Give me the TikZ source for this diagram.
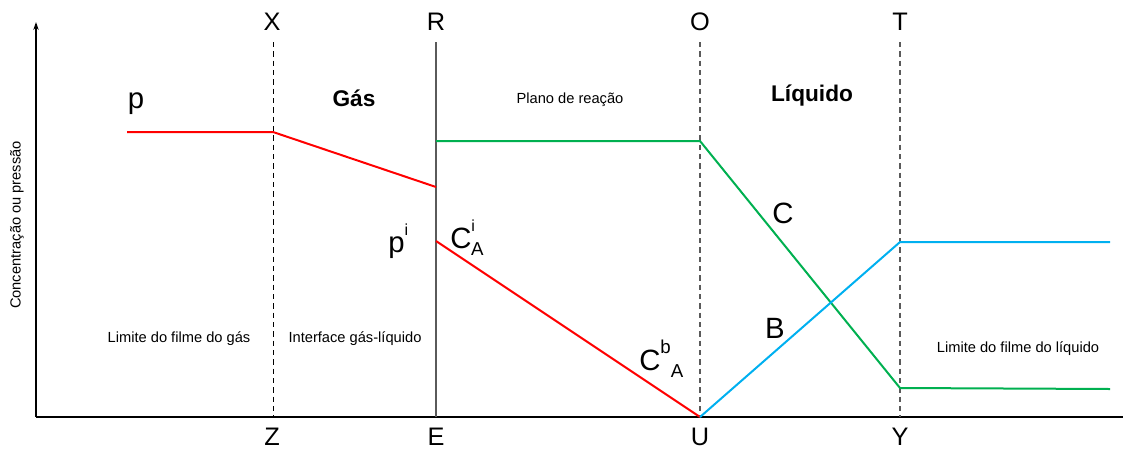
\documentclass[tikz,border=0pt]{standalone}
\usepackage{fontspec}
\setmainfont{Liberation Sans}
\usetikzlibrary{arrows.meta}
\definecolor{cred}{RGB}{255,0,0}
\definecolor{cgreen}{RGB}{0,176,80}
\definecolor{cblue}{RGB}{0,176,240}
\definecolor{cgray}{RGB}{90,90,90}
\tikzset{
  axis/.style={line width=0.9pt,black},
  bound/.style={line width=0.7pt,dash pattern=on 4pt off 3pt,black},
  boundgray/.style={line width=0.8pt,dash pattern=on 4pt off 3pt,cgray},
  solidbound/.style={line width=0.9pt,cgray},
  curve/.style={line width=1.5pt},
  letter/.style={font=\fontsize{19}{22}\selectfont,inner sep=0pt},
  biglabel/.style={font=\fontsize{22}{25}\selectfont,inner sep=0pt},
  boldlabel/.style={font=\bfseries\fontsize{17}{20}\selectfont,inner sep=0pt},
  smalllabel/.style={font=\fontsize{11}{13}\selectfont,inner sep=0pt},
}
\begin{document}
\begin{tikzpicture}[x=0.75pt,y=-0.75pt]
\useasboundingbox (0,0) rectangle (1123,450);
% axes
\coordinate (o) at (36,417);
\coordinate (ytop) at (36,22);
\coordinate (xend) at (1123,417);
\draw[axis,-{Stealth[length=6pt,width=4pt]}] (o) -- (ytop);
\draw[axis] (o) -- (xend);
% boundary lines
\coordinate (xt) at (273,42); \coordinate (xb) at (273,417);
\coordinate (rt) at (436,42); \coordinate (rb) at (436,417);
\coordinate (ot) at (700,42); \coordinate (ob) at (700,417);
\coordinate (tt) at (900,42); \coordinate (tb) at (900,417);
\draw[bound] (xt) -- (xb);
\draw[solidbound] (rt) -- (rb);
\draw[boundgray] (ot) -- (ob);
\draw[boundgray] (tt) -- (tb);
% top / bottom letters
\node[letter] (lX) at (272,22) {X};
\node[letter] (lR) at (436,22) {R};
\node[letter] (lO) at (700,22) {O};
\node[letter] (lT) at (900,22) {T};
\node[letter] (lZ) at (272,437) {Z};
\node[letter] (lE) at (436,437) {E};
\node[letter] (lU) at (700,437) {U};
\node[letter] (lY) at (900,437) {Y};
% red curves
\coordinate (p0) at (127,132);
\coordinate (p1) at (273,132);
\coordinate (p2) at (436,187);
\coordinate (c0) at (436,241);
\coordinate (c1) at (700,417);
\draw[curve,cred] (p0) -- (p1) -- (p2);
\draw[curve,cred] (c0) -- (c1);
% green
\coordinate (g0) at (436,141);
\coordinate (g1) at (700,141);
\coordinate (g2) at (900,388);
\coordinate (g3) at (1110,389);
\draw[curve,cgreen] (g0) -- (g1) -- (g2) -- (g3);
% blue
\coordinate (b1) at (900,242);
\coordinate (b2) at (1110,242);
\draw[curve,cblue] (c1) -- (b1) -- (b2);
% labels
\node[biglabel] (lp) at (136,104) {p};
\node[biglabel,anchor=base west] (lpi) at (388,252) {p\raisebox{0.55em}{\fontsize{12}{14}\selectfont i}};
\node[biglabel,anchor=base west] (lci) at (450,248) {C\raisebox{0.55em}{\fontsize{12}{14}\selectfont i}\kern-3pt\raisebox{-0.25em}{\fontsize{14}{16}\selectfont A}};
\node[biglabel,anchor=base west] (lcb) at (639,370) {C\raisebox{0.55em}{\fontsize{14}{16}\selectfont b}\raisebox{-0.25em}{\fontsize{14}{16}\selectfont A}};
\node[biglabel] (lC) at (783,213) {C};
\node[biglabel] (lB) at (775,328) {B};
\node[boldlabel] (lgas) at (354,98) {Gás};
\node[boldlabel] (lliq) at (812,96) {Líquido};
\node[smalllabel] (lplano) at (570,100) {Plano de reação};
\node[smalllabel] (lfg) at (179,339) {Limite do filme do gás};
\node[smalllabel] (lint) at (355,339) {Interface gás-líquido};
\node[smalllabel] (lfl) at (1018,349) {Limite do filme do líquido};
\node[smalllabel,rotate=90] (lyax) at (17,225) {Concentração ou pressão};
\end{tikzpicture}
\end{document}
